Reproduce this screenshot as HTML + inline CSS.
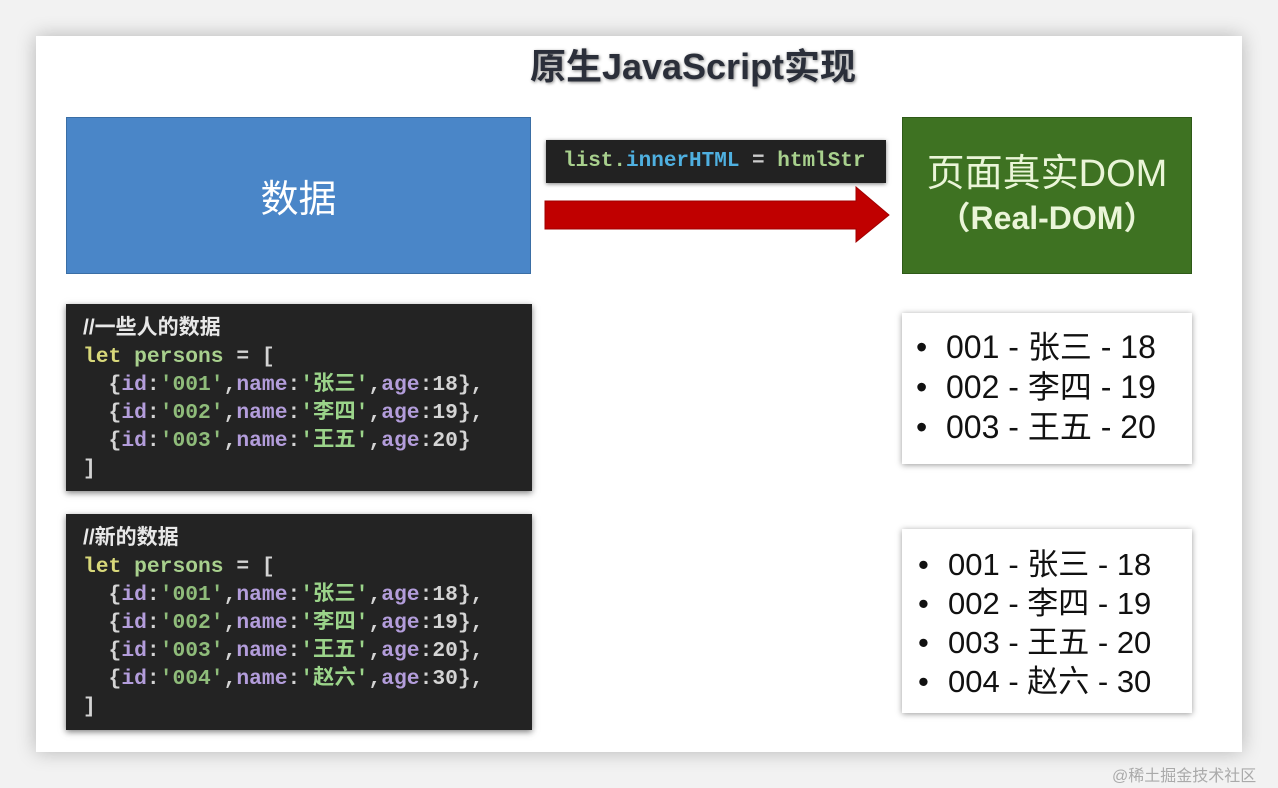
<!DOCTYPE html>
<html><head><meta charset="utf-8"><style>
body{margin:0;width:1278px;height:788px;background:#f2f2f2;position:relative;overflow:hidden;font-family:"Liberation Sans","Noto Sans CJK SC",sans-serif}
.slide{position:absolute;left:36px;top:36px;width:1206px;height:716px;background:#fff;box-shadow:0 0 18px rgba(0,0,0,.25)}
.a{position:absolute}
.title{left:0;width:1386px;top:38px;text-align:center;font-size:36px;font-weight:bold;color:#2b2f3a;text-shadow:1px 1px 3px #888;letter-spacing:0}
.code{background:#232323;box-shadow:0 2px 6px rgba(0,0,0,.5);font-family:"Liberation Mono","Noto Sans CJK SC",monospace;font-size:21.3px;line-height:28px;color:#d4d4d4;padding:10px 0 0 17px;box-sizing:border-box;white-space:pre;font-weight:bold}
.c{color:#e8e8e8;font-weight:bold;font-family:"Liberation Sans","Noto Sans CJK SC",sans-serif;font-size:21px}
.k{color:#d8d87a}.v{color:#a8d08d}.p{color:#b39ddb}.s{color:#8fbc7a}.n{color:#e0e0e0}.cn{color:#9bd48a;font-weight:bold}
.list{background:#fff;box-shadow:0 1px 6px rgba(0,0,0,.4);color:#111;box-sizing:border-box}
.list div{height:40px;line-height:40px}
.b{display:inline-block;width:30px}
</style></head><body>
<div class="slide"></div>
<div class="a title" style="left:0;width:1386px">原生JavaScript实现</div>
<div class="a" style="left:66px;top:117px;width:465px;height:157px;background:#4a86c8;border:1px solid #3a6ea5;box-sizing:border-box;color:#fff;font-size:38px;display:flex;align-items:center;justify-content:center">数据</div>
<div class="a" style="left:546px;top:140px;width:340px;height:43px;background:#222;box-shadow:0 1px 4px rgba(0,0,0,.5);font-family:'Liberation Mono',monospace;font-size:21px;line-height:43px;padding-left:17px;box-sizing:border-box;font-weight:bold"><span style="color:#a8d08d">list.</span><span style="color:#4fb0e0">innerHTML</span><span style="color:#ccc"> = </span><span style="color:#a8d08d">htmlStr</span></div>
<svg class="a" style="left:544px;top:186px" width="346" height="58"><polygon points="1,15 312,15 312,1 345,29 312,56 312,43 1,43" fill="#c00000" stroke="#a00000"/></svg>
<div class="a" style="left:902px;top:117px;width:290px;height:157px;background:#3e7222;border:1px solid #2e5a18;box-sizing:border-box;color:#eaf5d8;text-align:center">
<div style="font-size:38px;margin-top:34px;line-height:44px">页面真实DOM</div>
<div style="font-size:32px;font-weight:bold;line-height:44px">（Real-DOM）</div></div>
<div class="a code" style="left:66px;top:304px;width:466px;height:187px"><span class="c">//一些人的数据</span>
<span class="k">let</span> <span class="v">persons</span> = [
  {<span class="p">id</span>:<span class="s">'001'</span>,<span class="p">name</span>:<span class="cn">'张三'</span>,<span class="p">age</span>:18},
  {<span class="p">id</span>:<span class="s">'002'</span>,<span class="p">name</span>:<span class="cn">'李四'</span>,<span class="p">age</span>:19},
  {<span class="p">id</span>:<span class="s">'003'</span>,<span class="p">name</span>:<span class="cn">'王五'</span>,<span class="p">age</span>:20}
]</div>
<div class="a code" style="left:66px;top:514px;width:466px;height:216px"><span class="c">//新的数据</span>
<span class="k">let</span> <span class="v">persons</span> = [
  {<span class="p">id</span>:<span class="s">'001'</span>,<span class="p">name</span>:<span class="cn">'张三'</span>,<span class="p">age</span>:18},
  {<span class="p">id</span>:<span class="s">'002'</span>,<span class="p">name</span>:<span class="cn">'李四'</span>,<span class="p">age</span>:19},
  {<span class="p">id</span>:<span class="s">'003'</span>,<span class="p">name</span>:<span class="cn">'王五'</span>,<span class="p">age</span>:20},
  {<span class="p">id</span>:<span class="s">'004'</span>,<span class="p">name</span>:<span class="cn">'赵六'</span>,<span class="p">age</span>:30},
]</div>
<div class="a list" style="left:902px;top:313px;width:290px;height:151px;padding:14px 0 0 14px;font-size:32px">
<div><span class="b">•</span>001 - 张三 - 18</div><div><span class="b">•</span>002 - 李四 - 19</div><div><span class="b">•</span>003 - 王五 - 20</div></div>
<div class="a list" style="left:902px;top:529px;width:290px;height:184px;padding:16px 0 0 16px;font-size:31px">
<div style="height:39px;line-height:39px"><span class="b">•</span>001 - 张三 - 18</div><div style="height:39px;line-height:39px"><span class="b">•</span>002 - 李四 - 19</div><div style="height:39px;line-height:39px"><span class="b">•</span>003 - 王五 - 20</div><div style="height:39px;line-height:39px"><span class="b">•</span>004 - 赵六 - 30</div></div>
<div class="a" style="left:1112px;top:762px;font-size:16px;color:#aaa">@稀土掘金技术社区</div>
</body></html>
